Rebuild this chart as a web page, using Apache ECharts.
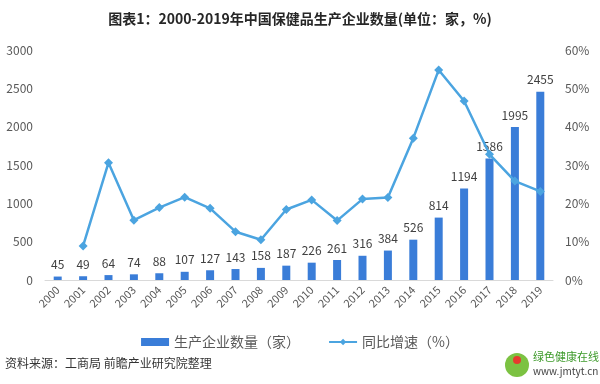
<!DOCTYPE html>
<html><head><meta charset="utf-8">
<script src="https://cdn.jsdelivr.net/npm/echarts@6/dist/echarts.min.js"></script>
<style>html,body{margin:0;padding:0;background:#fff}#c{width:600px;height:384px}</style>
</head><body><div id="c"></div>
<script>
const years = ['2000','2001','2002','2003','2004','2005','2006','2007','2008','2009','2010','2011','2012','2013','2014','2015','2016','2017','2018','2019'];
const companies = [45,49,64,74,88,107,127,143,158,187,226,261,316,384,526,814,1194,1586,1995,2455];
const growth = [null,8.9,30.6,15.6,18.9,21.6,18.7,12.6,10.5,18.4,20.9,15.5,21.1,21.5,37.0,54.8,46.7,32.8,25.8,23.1];
const leftTicks = [0,500,1000,1500,2000,2500,3000];
const rightTicks = [0,10,20,30,40,50,60];

const FONT = '"Noto Sans CJK SC","Noto Sans",sans-serif';
const chart = echarts.init(document.getElementById('c'));
chart.setOption({
  animation:false,
  textStyle:{fontFamily:FONT},
  title:{text:'图表1：2000-2019年中国保健品生产企业数量(单位：家，%)',left:'center',top:7,
    textStyle:{fontSize:14,fontWeight:'bold',color:'#262626',fontFamily:FONT}},
  grid:{left:45,right:47,top:50,bottom:104,containLabel:false},
  legend:{bottom:30,left:'center',itemGap:28,textStyle:{fontSize:14,color:'#595959',fontFamily:FONT},
    data:[{name:'生产企业数量（家）',icon:'rect',itemWidth:26,itemHeight:7},{name:'同比增速（%）'}],
    itemWidth:28,itemHeight:8},
  xAxis:{type:'category',data:years,
    axisLine:{lineStyle:{color:'#d9d9d9'}},axisTick:{show:false},
    axisLabel:{rotate:45,fontSize:11,color:'#595959',margin:8,interval:0}},
  yAxis:[
    {type:'value',min:leftTicks[0],max:leftTicks[leftTicks.length-1],interval:500,
     axisLine:{show:false},axisTick:{show:false},splitLine:{show:false},
     axisLabel:{fontSize:12,color:'#595959',margin:12,formatter:v=>String(v)}},
    {type:'value',min:rightTicks[0],max:rightTicks[rightTicks.length-1],interval:10,
     axisLine:{show:false},axisTick:{show:false},splitLine:{show:false},
     axisLabel:{fontSize:12,color:'#595959',margin:12,formatter:'{value}%'}}
  ],
  series:[
    {name:'生产企业数量（家）',type:'bar',data:companies,barWidth:8,
     itemStyle:{color:'#3a7dd8'},
     label:{show:true,position:'top',fontSize:12,color:'#404040',distance:6}},
    {name:'同比增速（%）',type:'line',yAxisIndex:1,data:growth,
     symbol:'diamond',symbolSize:9,lineStyle:{width:2.5,color:'#4ba4e0'},
     itemStyle:{color:'#4ba4e0'}}
  ],
  graphic:[
    {type:'text',left:5,top:357,style:{text:'资料来源：工商局 前瞻产业研究院整理',fontSize:12,fill:'#333',fontFamily:FONT}},
    {type:'circle',shape:{cx:517,cy:365,r:12},style:{fill:'#7cc242'}},
    {type:'circle',shape:{cx:517,cy:360,r:4},style:{fill:'#e63b2e'}},
    {type:'text',left:533,top:351,style:{text:'绿色健康在线',fontSize:11,fill:'#3d9a2a',fontFamily:FONT}},
    {type:'text',left:533,top:366,style:{text:'www.jmtyt.cn',fontSize:10,fill:'#444',fontFamily:FONT}}
  ]
});
</script></body></html>
